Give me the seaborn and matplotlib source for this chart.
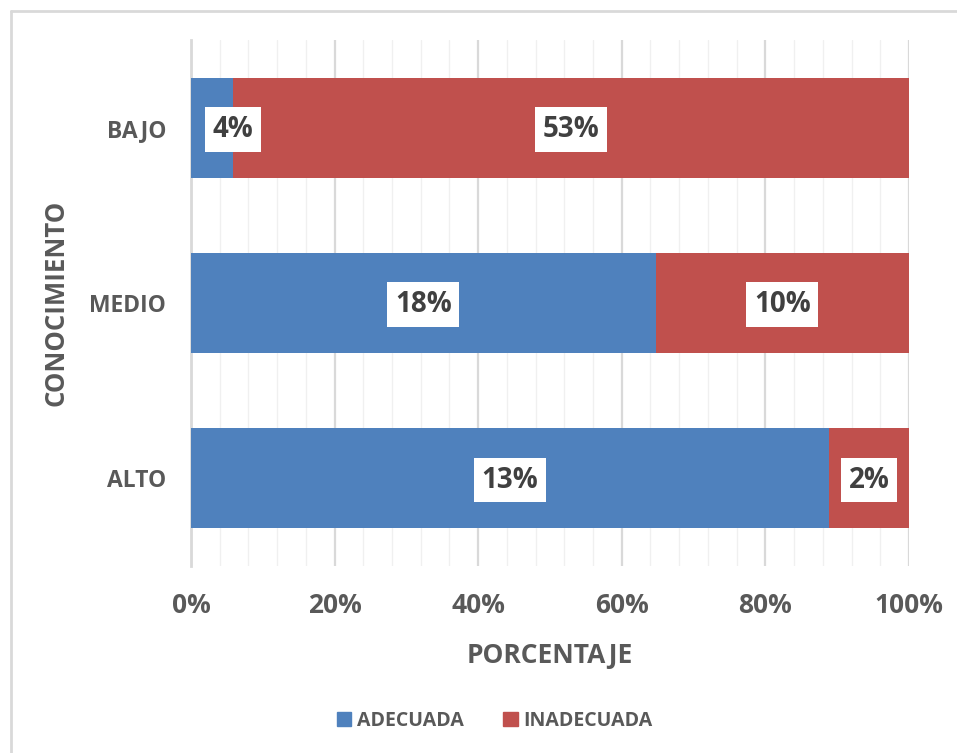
import numpy as np
import pandas as pd
import seaborn as sns
import matplotlib.pyplot as plt
from matplotlib.patches import Patch
from matplotlib.ticker import MultipleLocator, PercentFormatter

# datos (barras 100% apiladas)
niveles = ["BAJO", "MEDIO", "ALTO"]
adecuada = [5.9, 64.7, 88.9]        # porcion azul de cada barra (%)
inadecuada = [94.1, 35.3, 11.1]     # porcion roja de cada barra (%)
etq_adecuada = ["4%", "18%", "13%"]
etq_inadecuada = ["53%", "10%", "2%"]

AZUL = "#4F81BD"
ROJO = "#C0504D"
GRIS = "#595959"

sns.set_style("white")
plt.rcParams['font.family'] = ['Open Sans', 'DejaVu Sans']
plt.rcParams['font.weight'] = 'bold'

df = pd.DataFrame({'nivel': niveles, 'adecuada': adecuada, 'inadecuada': inadecuada})
df['total'] = df.adecuada + df.inadecuada

fig = plt.figure(figsize=(9.57, 7.53), dpi=100)
ax = fig.add_axes([0.1996, 0.2483, 0.7502, 0.6986])

# rojo = total, azul encima
sns.barplot(data=df, x='total', y='nivel', color=ROJO, width=0.571, saturation=1,
            ax=ax, zorder=2, edgecolor='none')
sns.barplot(data=df, x='adecuada', y='nivel', color=AZUL, width=0.571, saturation=1,
            ax=ax, zorder=3, edgecolor='none')

ax.set_xlim(0, 100)
ax.set_ylim(2.5, -0.5)
ax.xaxis.set_major_locator(MultipleLocator(20))
ax.xaxis.set_minor_locator(MultipleLocator(4))
ax.xaxis.set_major_formatter(PercentFormatter(decimals=0))
ax.grid(axis='x', which='major', color='#d9d9d9', lw=1.6, zorder=0)
ax.grid(axis='x', which='minor', color='#f0f0f0', lw=1.0, zorder=0)
ax.set_axisbelow(True)
for s in ['top', 'right', 'bottom']:
    ax.spines[s].set_visible(False)
ax.spines['left'].set_color('#d9d9d9')
ax.spines['left'].set_linewidth(2)
ax.tick_params(axis='both', which='both', length=0)
ax.tick_params(axis='y', pad=18, labelsize=16.5, labelcolor=GRIS)
ax.tick_params(axis='x', pad=19, labelsize=19, labelcolor=GRIS)
for t in ax.get_xticklabels() + ax.get_yticklabels():
    t.set_fontweight('bold')

ax.set_xlabel("PORCENTAJE", fontsize=19, color=GRIS, fontweight='bold', labelpad=16)
ax.set_ylabel("CONOCIMIENTO", fontsize=18.5, color=GRIS, fontweight='bold', labelpad=14)

caja = dict(boxstyle='square,pad=0.28', fc='white', ec='none')
for i in range(len(niveles)):
    xa = max(adecuada[i] / 2, 5.8)
    ax.text(xa, i + 0.01, etq_adecuada[i], ha='center', va='center', fontsize=20,
            color='#404040', fontweight='bold', bbox=caja, zorder=5)
    xr = adecuada[i] + inadecuada[i] / 2
    ax.text(xr, i + 0.01, etq_inadecuada[i], ha='center', va='center', fontsize=20,
            color='#404040', fontweight='bold', bbox=caja, zorder=5)

manijas = [Patch(color=AZUL, label='ADECUADA'), Patch(color=ROJO, label='INADECUADA')]
fig.legend(handles=manijas, loc='center', bbox_to_anchor=(0.517, 0.0425), ncol=2,
           frameon=False, prop={'size': 14, 'weight': 'bold'}, handlelength=0.75,
           handleheight=0.75, handletextpad=0.3, columnspacing=2.0, labelcolor=GRIS)

# marco del area del grafico
fig.add_artist(plt.Line2D([11/957, 11/957], [0, 1 - 11/753], color='#d9d9d9', lw=2,
                          transform=fig.transFigure))
fig.add_artist(plt.Line2D([11/957, 1], [1 - 11/753, 1 - 11/753], color='#d9d9d9', lw=2,
                          transform=fig.transFigure))

fig.savefig("out.png", dpi=100)
